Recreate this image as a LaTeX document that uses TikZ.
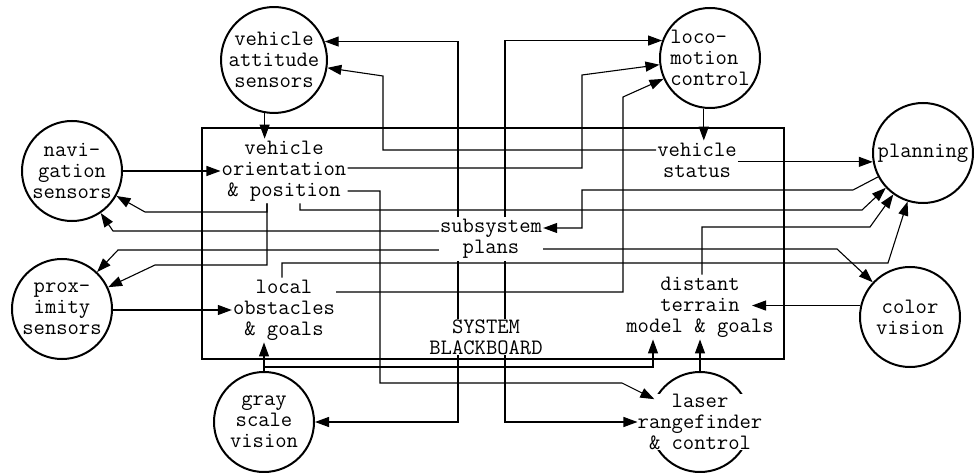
\documentclass[tikz,border=0pt]{standalone}
\usepackage{fontspec}
\usetikzlibrary{arrows.meta}

\begin{document}
\begin{tikzpicture}[
  x=1pt, y=-1pt,
  font=\ttfamily\fontsize{22}{21}\selectfont,
  module/.style={circle, draw, line width=2pt, minimum size=100pt, inner sep=0pt, align=center},
  area/.style={align=center, inner xsep=1pt, inner ysep=2pt},
  boardframe/.style={draw, line width=2pt, minimum width=582pt, minimum height=231pt},
  arr/.style={-{Triangle[length=14pt, width=10pt]}, line width=1.1pt}
]
  \useasboundingbox (0,0) rectangle (975,473);

  \node[boardframe] (board) at (493,243.5) {};

  \node[module] (att) at (274,60) {vehicle\\attitude\\sensors};
  \node[module, align=left] (loco) at (710,58) {loco-\\motion\\control};
  \node[module] (nav) at (72,171) {navi-\\gation\\sensors};
  \node[module] (plan) at (923,153) {planning};
  \node[module] (prox) at (62,309) {prox-\\imity\\sensors};
  \node[module] (color) at (910,317) {color\\vision};
  \node[module] (gray) at (264,422) {gray\\scale\\vision};
  \node[module] (laser) at (700,422) {};
  \node[area, fill=white, inner sep=0pt] (laserlbl) at (laser) {laser\\rangefinder\\\& control};

  \node[area] (orient) at (284,171) {vehicle\\orientation\\\& position};
  \node[area] (status) at (697,160) {vehicle\\status};
  \node[area] (subsys) at (491,239) {subsystem\\plans};
  \node[area] (local) at (284,310) {local\\obstacles\\\& goals};
  \node[area] (distant) at (700,307) {distant\\terrain\\model \& goals};

  \draw[arr] (att.-100) -- (att.-100 |- orient.north);
  \draw[arr] (nav.east |- orient.west) -- (orient.west);
  \draw[arr] (orient.east |- 0,168) -| (582,75) -- (loco);
  \draw[arr] (orient.south -| 300,0) |- (862,210) -- (plan);
  \draw[arr] (orient.east |- 0,191) -| (380,383) -- (622,383) -- (laser);
  \draw[arr] (orient.south -| 267,0) |- (155,265) -- (prox);
  \draw[arr] (orient.south -| 267,0) -- (267,212) -- (145,212) -- (nav);

  \draw[arr] (status.west |- 0,150) -| (383,76) -- (att);
  \draw[arr] (status.east |- plan.190) -- (plan.190);
  \draw[arr] (loco.-97) -- (loco.-97 |- status.north);

  \draw[arr] (subsys.north -| 458,0) |- (att.20);
  \draw[arr] (subsys.north -| 505,0) |- (loco.160);
  \draw[arr] (subsys.west |- 0,231) -- (113,231) -- (nav);
  \draw[arr] (subsys.west |- 0,250) -- (118,250) -- (prox);
  \draw[arr] (subsys.east |- 0,249) -- (837,249) -- (color);
  \draw[arr] (subsys.south -| 458,0) |- (gray);
  \draw[arr] (subsys.south -| 505,0) |- (laserlbl.west);

  \draw[arr] (plan.208) -- (853,190) -| (582,228) -- (subsys.east |- 0,228);

  \draw[arr] (local.east |- 0,292) -| (623,97) -- (loco);
  \draw[arr] (local.north -| 282,0) |- (888,263) -- (plan);
  \draw[arr] (prox.east |- local.west) -- (local.west);

  \draw[arr] (distant.north -| 702,0) |- (870,227) -- (plan);
  \draw[arr] (color.167) -- ([xshift=52pt]distant.center |- color.167);

  \draw[arr] (gray.north) -- (gray.north |- local.south);
  \draw[arr] (gray.north) -- (264,367) -| (distant.south -| 653,0);
  \draw[arr] (laser.north) -- (laser.north |- distant.south);

  \node[area, fill=white, inner ysep=1pt] (sysbb) at (486,337) {SYSTEM\\BLACKBOARD};
\end{tikzpicture}
\end{document}
